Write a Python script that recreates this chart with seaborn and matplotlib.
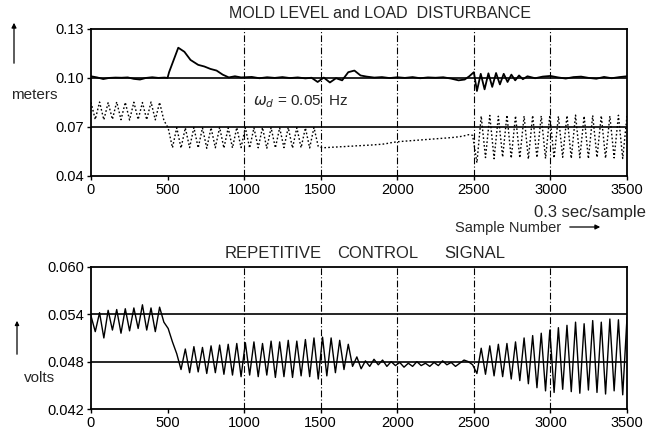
import numpy as np
import pandas as pd
import matplotlib
matplotlib.use("Agg")
import matplotlib.pyplot as plt
import seaborn as sns

# ---------------- data ----------------
# common sample grid for the oscillating signals (sample number)
sample = np.arange(0, 3501, 28)

# load disturbance (meters, plotted offset around 0.07)
disturbance = [
    0.0850, 0.0745, 0.0852, 0.0743, 0.0848, 0.0746, 0.0853, 0.0744, 0.0850,
    0.0742, 0.0851, 0.0745, 0.0849, 0.0744, 0.0852, 0.0743, 0.0850, 0.0740,
    0.0693, 0.0572, 0.0695, 0.0570, 0.0694, 0.0573, 0.0696, 0.0571, 0.0694,
    0.0569, 0.0695, 0.0572, 0.0697, 0.0570, 0.0694, 0.0571, 0.0696, 0.0573,
    0.0695, 0.0570, 0.0694, 0.0572, 0.0696, 0.0569, 0.0695, 0.0571, 0.0694,
    0.0573, 0.0696, 0.0570, 0.0695, 0.0572, 0.0694, 0.0571, 0.0696, 0.0580,
    0.0572, 0.0573, 0.0575, 0.0576, 0.0578, 0.0579, 0.0581, 0.0582, 0.0584,
    0.0585, 0.0587, 0.0588, 0.0590, 0.0592, 0.0594, 0.0598, 0.0603, 0.0607,
    0.0610, 0.0612, 0.0614, 0.0616, 0.0618, 0.0620, 0.0622, 0.0624, 0.0626,
    0.0628, 0.0630, 0.0632, 0.0634, 0.0637, 0.0640, 0.0645, 0.0652, 0.0648,
    0.0480, 0.0766, 0.0512, 0.0770, 0.0505, 0.0765, 0.0515, 0.0772, 0.0508,
    0.0768, 0.0510, 0.0766, 0.0503, 0.0770, 0.0512, 0.0767, 0.0506, 0.0771,
    0.0509, 0.0765, 0.0514, 0.0769, 0.0507, 0.0772, 0.0511, 0.0766, 0.0505,
    0.0770, 0.0513, 0.0768, 0.0508, 0.0766, 0.0510, 0.0771, 0.0506, 0.0768,
]

# repetitive control signal (volts)
control = [
    0.0538, 0.0518, 0.0542, 0.0510, 0.0545, 0.0520, 0.0546, 0.0516, 0.0547,
    0.0519, 0.0548, 0.0522, 0.0552, 0.0520, 0.0548, 0.0518, 0.0549, 0.0530,
    0.0522, 0.0505, 0.0490, 0.0470, 0.0496, 0.0466, 0.0499, 0.0467, 0.0498,
    0.0465, 0.0500, 0.0466, 0.0501, 0.0464, 0.0502, 0.0463, 0.0503, 0.0461,
    0.0504, 0.0463, 0.0505, 0.0461, 0.0503, 0.0463, 0.0506, 0.0460, 0.0505,
    0.0461, 0.0507, 0.0460, 0.0506, 0.0462, 0.0508, 0.0461, 0.0510, 0.0458,
    0.0511, 0.0462, 0.0510, 0.0466, 0.0507, 0.0470, 0.0502, 0.0474, 0.0486,
    0.0471, 0.0481, 0.0474, 0.0483, 0.0476, 0.0482, 0.0474, 0.0480, 0.0475,
    0.0479, 0.0473, 0.0478, 0.0474, 0.0480, 0.0475, 0.0478, 0.0474, 0.0479,
    0.0475, 0.0481, 0.0476, 0.0479, 0.0474, 0.0478, 0.0482, 0.0480, 0.0476,
    0.0465, 0.0497, 0.0464, 0.0500, 0.0462, 0.0502, 0.0461, 0.0503, 0.0458,
    0.0505, 0.0456, 0.0510, 0.0452, 0.0513, 0.0447, 0.0516, 0.0443, 0.0520,
    0.0441, 0.0523, 0.0445, 0.0526, 0.0442, 0.0530, 0.0440, 0.0528, 0.0444,
    0.0532, 0.0441, 0.0530, 0.0439, 0.0534, 0.0443, 0.0533, 0.0438, 0.0536,
]

# mold level (meters)
mold_x = [0, 40, 80, 120, 160, 200, 240, 280, 320, 360, 400, 440, 480, 500,
          510, 570, 610, 650, 700, 740, 780, 820, 860, 900, 940, 980,
          1050, 1100, 1150, 1200, 1250, 1300, 1350, 1400, 1440, 1480, 1520,
          1560, 1600, 1640, 1680, 1720, 1760, 1800, 1850, 1900, 1950, 2000,
          2050, 2100, 2150, 2200, 2250, 2300, 2350, 2400, 2440, 2470, 2500,
          2520, 2545, 2570, 2595, 2620, 2645, 2670, 2695, 2720, 2745, 2770,
          2795, 2820, 2850, 2900, 2950, 3000, 3050, 3100, 3150, 3200, 3250,
          3300, 3350, 3400, 3450, 3500]
mold_y = [0.1010, 0.1003, 0.0993, 0.1000, 0.1002, 0.1001, 0.1003, 0.0994,
          0.0990, 0.1000, 0.1004, 0.1000, 0.1002, 0.1000,
          0.1035, 0.1185, 0.1160, 0.1110, 0.1080, 0.1070, 0.1055, 0.1045,
          0.1020, 0.1003, 0.1010, 0.1003,
          0.1006, 0.0998, 0.1004, 0.1000, 0.1005, 0.0999, 0.1003, 0.0997,
          0.1001, 0.0975, 0.1002, 0.0972, 0.0998, 0.0985, 0.1035, 0.1045,
          0.1015, 0.1008, 0.1002, 0.1005, 0.0999, 0.1004, 0.1000, 0.1005,
          0.0998, 0.1003, 0.1001, 0.1004, 0.0996, 0.0985, 0.0990, 0.1010,
          0.1035, 0.0920, 0.1025, 0.0930, 0.1028, 0.0945, 0.1030, 0.0960,
          0.1025, 0.0975, 0.1020, 0.0985, 0.1015, 0.0992, 0.1010, 0.0998,
          0.1008, 0.1012, 0.1003, 0.0996, 0.1005, 0.1008, 0.1000, 0.0995,
          0.1006, 0.0998, 0.1005, 0.1010]

top_yticks = [0.04, 0.07, 0.10, 0.13]
top_ylabels = ["0.04", "0.07", "0.10", "0.13"]
bot_yticks = [0.042, 0.048, 0.054, 0.060]
bot_ylabels = ["0.042", "0.048", "0.054", "0.060"]
xticks = [0, 500, 1000, 1500, 2000, 2500, 3000, 3500]

df_sig = pd.DataFrame({"sample": sample, "disturbance": disturbance,
                       "control": control})
df_mold = pd.DataFrame({"sample": mold_x, "level": mold_y})

# ---------------- style ----------------
sns.set_style("ticks")
plt.rcParams["font.family"] = ["Liberation Sans", "DejaVu Sans"]
plt.rcParams["font.size"] = 10.5
plt.rcParams["axes.linewidth"] = 1.3

fig = plt.figure(figsize=(6.48, 4.32), dpi=100)
ax1 = fig.add_axes([0.1404, 0.593, 0.8272, 0.340])
ax2 = fig.add_axes([0.1404, 0.0532, 0.8272, 0.3290])

K = "black"

# ---- top panel ----
for xv in [1000, 1500, 2000, 2500, 3000]:
    ax1.axvline(xv, color=K, lw=0.8, ls=(0, (6, 2, 1, 2)), zorder=1)
for yv in [0.10, 0.07]:
    ax1.axhline(yv, color=K, lw=1.2, zorder=2)
sns.lineplot(data=df_sig, x="sample", y="disturbance", ax=ax1, color=K,
             lw=1.0, linestyle=(0, (1.2, 1.6)), estimator=None, sort=False)
sns.lineplot(data=df_mold, x="sample", y="level", ax=ax1, color=K,
             lw=1.3, estimator=None, sort=False)
ax1.set_xlim(0, 3500)
ax1.set_ylim(0.04, 0.13)
ax1.set_yticks(top_yticks)
ax1.set_yticklabels(top_ylabels)
ax1.set_xticks(xticks)
ax1.set_xlabel("")
ax1.set_ylabel("")
ax1.text(1370, 0.0853, r"$\omega_d$ = 0.05  Hz", ha="center", va="center",
         fontsize=11)

# ---- bottom panel ----
for xv in [1000, 1500, 2000, 2500, 3000]:
    ax2.axvline(xv, color=K, lw=0.8, ls=(0, (6, 2, 1, 2)), zorder=1)
for yv in [0.054, 0.048]:
    ax2.axhline(yv, color=K, lw=1.2, zorder=2)
sns.lineplot(data=df_sig, x="sample", y="control", ax=ax2, color=K,
             lw=1.0, estimator=None, sort=False)
ax2.set_xlim(0, 3500)
ax2.set_ylim(0.042, 0.060)
ax2.set_yticks(bot_yticks)
ax2.set_yticklabels(bot_ylabels)
ax2.set_xticks(xticks)
ax2.set_xlabel("")
ax2.set_ylabel("")

for ax in (ax1, ax2):
    for s in ax.spines.values():
        s.set_visible(True)
        s.set_color(K)
    ax.tick_params(axis="both", length=3, width=1, colors=K, labelsize=10.5,
                   pad=2)

# ---- annotations (figure coordinates) ----
W, H = 648.0, 432.0
def fx(px):
    return px / W
def fy(py):
    return 1 - py / H

fig.text(fx(380), fy(13), "MOLD LEVEL and LOAD  DISTURBANCE", ha="center",
         va="center", fontsize=11.5)
for word, cx in [("REPETITIVE", 273), ("CONTROL", 378), ("SIGNAL", 475)]:
    fig.text(fx(cx), fy(254), word, ha="center", va="center", fontsize=12)
fig.text(fx(34), fy(95), "meters", ha="center", va="center", fontsize=11)
fig.text(fx(40), fy(378), "volts", ha="center", va="center", fontsize=11)
fig.text(fx(646), fy(213), "0.3 sec/sample", ha="right", va="center",
         fontsize=12)
fig.text(fx(561), fy(228), "Sample Number", ha="right", va="center",
         fontsize=10.5)
fig.add_artist(matplotlib.patches.FancyArrowPatch(
    (fx(567), fy(227)), (fx(603), fy(227)), transform=fig.transFigure,
    arrowstyle="-|>", mutation_scale=7, color=K, lw=0.9))
fig.add_artist(matplotlib.patches.FancyArrowPatch(
    (fx(14), fy(66)), (fx(14), fy(20)), transform=fig.transFigure,
    arrowstyle="-|>", mutation_scale=7, color=K, lw=0.9))
fig.add_artist(matplotlib.patches.FancyArrowPatch(
    (fx(17), fy(357)), (fx(17), fy(318)), transform=fig.transFigure,
    arrowstyle="-|>", mutation_scale=6, color=K, lw=0.9))

fig.savefig("out.png", dpi=100, facecolor="white")
